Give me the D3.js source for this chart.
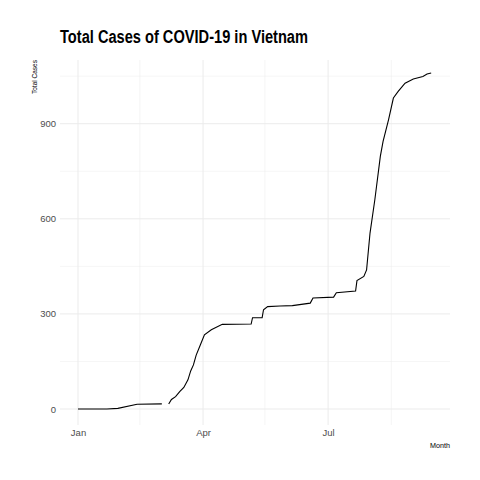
<!DOCTYPE html>
<html lang="en">
<head>
<meta charset="UTF-8">
<title>Total Cases of COVID-19 in Vietnam</title>
<script src="https://d3js.org/d3.v7.min.js"></script>
<style>
  body { margin: 0; background: #fff; }
  svg { font-family: "Liberation Sans", Arial, sans-serif; }
  .grid line { stroke: #ebebeb; }
  .tick text { fill: #4d4d4d; font-size: 9.5px; }
</style>
</head>
<body>
<svg id="chart" width="480" height="480"></svg>
<script>
// day of year 2020 (0 = Jan 1) and total cases; null = gap
const days  = [0, 21, 29, 43, 61, 63, 66, 68, 71, 74, 77, 80, 82, 84, 86, 89, 92, 97, 105, 126, 127, 134, 135, 138, 147, 156, 169, 171, 186, 188, 202, 203, 208, 210, 212.5, 216, 220, 222, 226, 229.5, 233, 238, 244, 251, 254, 257];
const cases = [0, 0, 2, 15, 16, null, 16, 30, 39, 55, 68, 92, 120, 139, 170, 202, 234, 250, 267, 268, 288, 288, 313, 323, 325, 326, 334, 350, 353, 367, 372, 405, 418, 439, 555, 660, 797, 844, 913, 981, 1002, 1028, 1041, 1049, 1057, 1060];
const yTicks = [0, 300, 600, 900];
const yMinor = [150, 450, 750, 1050];
const xTicks = ["2020-01-01", "2020-04-01", "2020-07-01"];
const xMinor = ["2020-02-15", "2020-05-16", "2020-08-16"];

const start = new Date(2020, 0, 1);
const toDate = d => new Date(start.getTime() + d * 864e5);
const parse = d3.timeParse("%Y-%m-%d");

const svg = d3.select("#chart");
const x = d3.scaleTime().domain([toDate(-13.1), toDate(270.7)]).range([60, 450]);
const y = d3.scaleLinear().domain([-50.5, 1101]).range([425, 60]);

const grid = svg.append("g").attr("class", "grid");
grid.selectAll(".ymin").data(yMinor).join("line")
  .attr("x1", 60).attr("x2", 450).attr("y1", d => y(d)).attr("y2", d => y(d)).attr("stroke-width", 0.5);
grid.selectAll(".xmin").data(xMinor).join("line")
  .attr("y1", 60).attr("y2", 425).attr("x1", d => x(parse(d))).attr("x2", d => x(parse(d))).attr("stroke-width", 0.5);
grid.selectAll(".ymaj").data(yTicks).join("line")
  .attr("x1", 60).attr("x2", 450).attr("y1", d => y(d)).attr("y2", d => y(d)).attr("stroke-width", 1);
grid.selectAll(".xmaj").data(xTicks).join("line")
  .attr("y1", 60).attr("y2", 425).attr("x1", d => x(parse(d))).attr("x2", d => x(parse(d))).attr("stroke-width", 1);

const yAxis = svg.append("g").attr("transform", "translate(60,0)")
  .call(d3.axisLeft(y).tickValues(yTicks).tickSize(0).tickPadding(4));
yAxis.select(".domain").remove();

const xAxis = svg.append("g").attr("transform", "translate(0,425)")
  .call(d3.axisBottom(x).tickValues(xTicks.map(parse)).tickFormat(d3.timeFormat("%b")).tickSize(0).tickPadding(4));
xAxis.select(".domain").remove();

const pts = days.map((d, i) => ({ date: toDate(d), v: cases[i] }));
svg.append("path")
  .datum(pts)
  .attr("fill", "none").attr("stroke", "#000").attr("stroke-width", 1.1)
  .attr("d", d3.line().defined(d => d.v !== null).x(d => x(d.date)).y(d => y(d.v)));

svg.append("text").attr("x", 60).attr("y", 43)
  .attr("font-size", 18).attr("font-weight", "bold")
  .attr("textLength", 248).attr("lengthAdjust", "spacingAndGlyphs")
  .text("Total Cases of COVID-19 in Vietnam");
svg.append("text").attr("transform", "translate(37,60) rotate(-90)")
  .attr("text-anchor", "end").attr("font-size", 7.5)
  .attr("textLength", 34).attr("lengthAdjust", "spacingAndGlyphs").text("Total Cases");
svg.append("text").attr("x", 450).attr("y", 448)
  .attr("text-anchor", "end").attr("font-size", 7.5)
  .attr("textLength", 20).attr("lengthAdjust", "spacingAndGlyphs").text("Month");
</script>
</body>
</html>
